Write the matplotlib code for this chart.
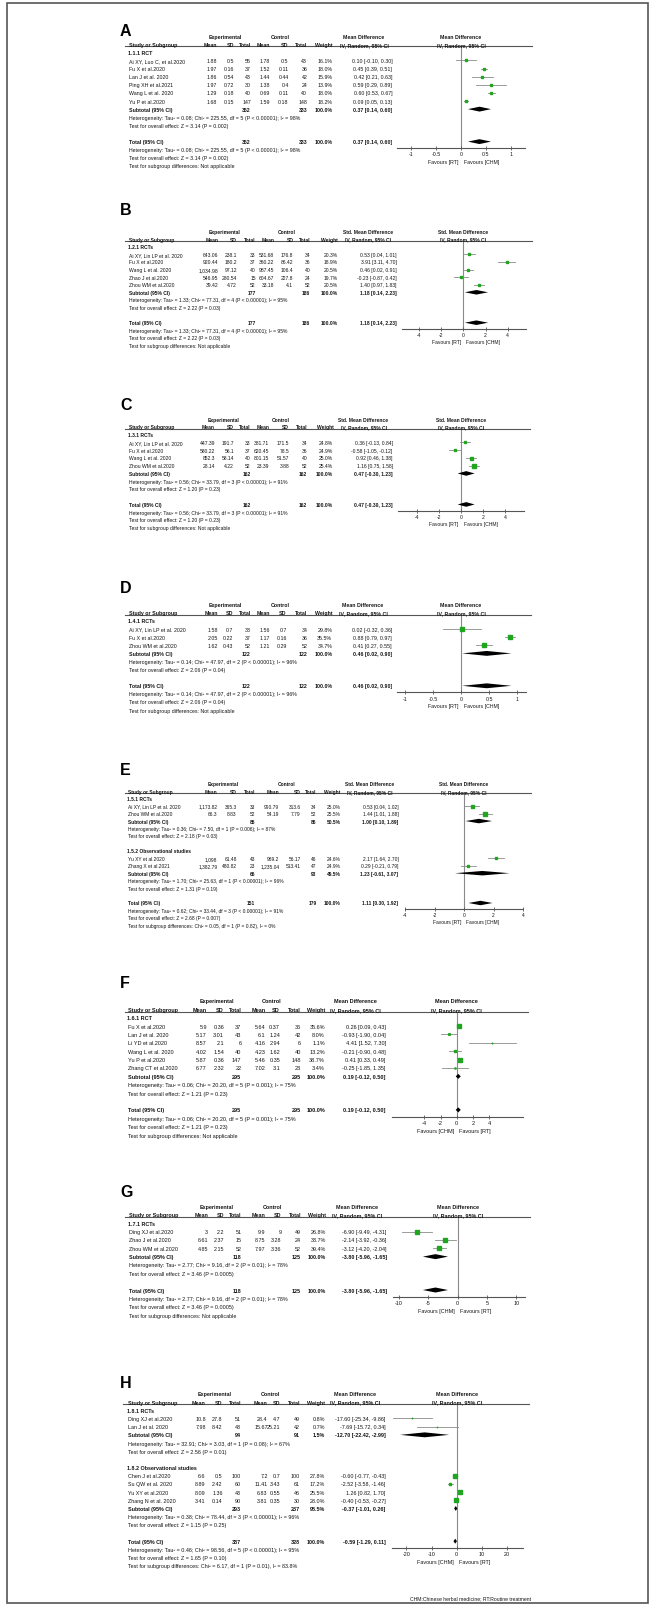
import matplotlib
matplotlib.use("Agg")
import matplotlib.pyplot as plt
from matplotlib.patches import Rectangle
from matplotlib.lines import Line2D

plt.rcParams['font.family'] = ['Liberation Sans', 'DejaVu Sans']

W, H = 655, 1606

# %%
# study rows: name, exp mean, exp sd, exp n, ctl mean, ctl sd, ctl n, weight %, estimate, lower, upper
a_rows = [
    ("Ai XY, Luo C, et al.2020", "1.88", "0.5", 55, "1.78", "0.5", 43, 16.1, 0.10, -0.10, 0.30),
    ("Fu X et al.2020", "1.97", "0.16", 37, "1.52", "0.11", 36, 18.0, 0.45, 0.39, 0.51),
    ("Lan J et al. 2020", "1.86", "0.54", 43, "1.44", "0.44", 42, 15.9, 0.42, 0.21, 0.63),
    ("Ping XH et al.2021", "1.97", "0.72", 30, "1.38", "0.4", 24, 13.9, 0.59, 0.29, 0.89),
    ("Wang L et al. 2020", "1.29", "0.18", 40, "0.69", "0.11", 40, 18.0, 0.60, 0.53, 0.67),
    ("Yu P et al.2020", "1.68", "0.15", 147, "1.59", "0.18", 148, 18.2, 0.09, 0.05, 0.13),
]
a_sub = (352, 333, 100.0, 0.37, 0.14, 0.60)
a_het = "Heterogeneity: Tau² = 0.08; Chi² = 225.55, df = 5 (P < 0.00001); I² = 98%"
a_z = "Test for overall effect: Z = 3.14 (P = 0.002)"

b_rows = [
    ("Ai XY, Lin LP et al. 2020", "643.06", "238.1", 33, "531.68", "176.8", 34, 20.3, 0.53, 0.04, 1.01),
    ("Fu X et al.2020", "920.44", "180.2", 37, "360.22", "86.42", 36, 18.9, 3.91, 3.11, 4.70),
    ("Wang L et al. 2020", "1,034.98", "97.12", 40, "987.45", "106.4", 40, 20.5, 0.46, 0.02, 0.91),
    ("Zhao J et al.2020", "546.95", "280.54", 15, "604.67", "227.8", 24, 19.7, -0.23, -0.87, 0.42),
    ("Zhou WM et al.2020", "39.42", "4.72", 52, "33.18", "4.1", 52, 20.5, 1.40, 0.97, 1.83),
]
b_sub = (177, 186, 100.0, 1.18, 0.14, 2.23)
b_het = "Heterogeneity: Tau² = 1.33; Chi² = 77.31, df = 4 (P < 0.00001); I² = 95%"
b_z = "Test for overall effect: Z = 2.22 (P = 0.03)"

c_rows = [
    ("Ai XY, Lin LP et al. 2020", "447.39", "191.7", 33, "381.71", "171.5", 34, 24.8, 0.36, -0.13, 0.84),
    ("Fu X et al.2020", "580.22", "56.1", 37, "620.45", "78.5", 36, 24.9, -0.58, -1.05, -0.12),
    ("Wang L et al. 2020", "852.3", "58.14", 40, "801.15", "51.57", 40, 25.0, 0.92, 0.46, 1.38),
    ("Zhou WM et al.2020", "28.14", "4.22", 52, "23.39", "3.88", 52, 25.4, 1.16, 0.75, 1.58),
]
c_sub = (162, 162, 100.0, 0.47, -0.30, 1.23)
c_het = "Heterogeneity: Tau² = 0.56; Chi² = 33.79, df = 3 (P < 0.00001); I² = 91%"
c_z = "Test for overall effect: Z = 1.20 (P = 0.23)"

d_rows = [
    ("Ai XY, Lin LP et al. 2020", "1.58", "0.7", 33, "1.56", "0.7", 34, 29.8, 0.02, -0.32, 0.36),
    ("Fu X et al.2020", "2.05", "0.22", 37, "1.17", "0.16", 36, 35.5, 0.88, 0.79, 0.97),
    ("Zhou WM et al.2020", "1.62", "0.43", 52, "1.21", "0.29", 52, 34.7, 0.41, 0.27, 0.55),
]
d_sub = (122, 122, 100.0, 0.46, 0.02, 0.90)
d_het = "Heterogeneity: Tau² = 0.14; Chi² = 47.97, df = 2 (P < 0.00001); I² = 96%"
d_z = "Test for overall effect: Z = 2.06 (P = 0.04)"

e1_rows = [
    ("Ai XY, Lin LP et al. 2020", "1,173.82", "365.3", 33, "990.79", "313.6", 34, 25.0, 0.53, 0.04, 1.02),
    ("Zhou WM et al.2020", "66.3", "8.83", 52, "54.19", "7.79", 52, 25.5, 1.44, 1.01, 1.88),
]
e1_sub = (85, 86, 50.5, 1.00, 0.10, 1.89)
e1_het = "Heterogeneity: Tau² = 0.36; Chi² = 7.50, df = 1 (P = 0.006); I² = 87%"
e1_z = "Test for overall effect: Z = 2.18 (P = 0.03)"
e2_rows = [
    ("Yu XY et al.2020", "1,098", "61.48", 43, "969.2", "56.17", 46, 24.6, 2.17, 1.64, 2.70),
    ("Zhang X et al.2021", "1,382.79", "480.82", 23, "1,235.04", "513.41", 47, 24.9, 0.29, -0.21, 0.79),
]
e2_sub = (66, 93, 49.5, 1.23, -0.61, 3.07)
e2_het = "Heterogeneity: Tau² = 1.70; Chi² = 25.63, df = 1 (P < 0.00001); I² = 96%"
e2_z = "Test for overall effect: Z = 1.31 (P = 0.19)"
e_tot = (151, 179, 100.0, 1.11, 0.30, 1.92)
e_het = "Heterogeneity: Tau² = 0.62; Chi² = 33.44, df = 3 (P < 0.00001); I² = 91%"
e_z = "Test for overall effect: Z = 2.68 (P = 0.007)"
e_sg = "Test for subgroup differences: Chi² = 0.05, df = 1 (P = 0.82), I² = 0%"

f_rows = [
    ("Fu X et al.2020", "5.9", "0.36", 37, "5.64", "0.37", 36, 35.6, 0.26, 0.09, 0.43),
    ("Lan J et al. 2020", "5.17", "3.01", 43, "6.1", "1.24", 42, 8.0, -0.93, -1.90, 0.04),
    ("Li YD et al.2020", "8.57", "2.1", 6, "4.16", "2.94", 6, 1.1, 4.41, 1.52, 7.30),
    ("Wang L et al. 2020", "4.02", "1.54", 40, "4.23", "1.62", 40, 13.2, -0.21, -0.90, 0.48),
    ("Yu P et al.2020", "5.87", "0.36", 147, "5.46", "0.35", 148, 38.7, 0.41, 0.33, 0.49),
    ("Zhang CT et al.2020", "6.77", "2.32", 22, "7.02", "3.1", 23, 3.4, -0.25, -1.85, 1.35),
]
f_sub = (295, 295, 100.0, 0.19, -0.12, 0.50)
f_het = "Heterogeneity: Tau² = 0.06; Chi² = 20.20, df = 5 (P = 0.001); I² = 75%"
f_z = "Test for overall effect: Z = 1.21 (P = 0.23)"

g_rows = [
    ("Ding XJ et al.2020", "3", "2.2", 51, "9.9", "9", 49, 26.8, -6.90, -9.49, -4.31),
    ("Zhao J et al.2020", "6.61", "2.37", 15, "8.75", "3.28", 24, 33.7, -2.14, -3.92, -0.36),
    ("Zhou WM et al.2020", "4.85", "2.15", 52, "7.97", "3.36", 52, 39.4, -3.12, -4.20, -2.04),
]
g_sub = (118, 125, 100.0, -3.80, -5.96, -1.65)
g_het = "Heterogeneity: Tau² = 2.77; Chi² = 9.16, df = 2 (P = 0.01); I² = 78%"
g_z = "Test for overall effect: Z = 3.46 (P = 0.0005)"

h1_rows = [
    ("Ding XJ et al.2020", "10.8", "27.8", 51, "28.4", "4.7", 49, 0.8, -17.60, -25.34, -9.86),
    ("Lan J et al. 2020", "7.98", "8.42", 43, "15.67", "25.21", 42, 0.7, -7.69, -15.72, 0.34),
]
h1_sub = (94, 91, 1.5, -12.70, -22.42, -2.99)
h1_het = "Heterogeneity: Tau² = 32.91; Chi² = 3.03, df = 1 (P = 0.08); I² = 67%"
h1_z = "Test for overall effect: Z = 2.56 (P = 0.01)"
h2_rows = [
    ("Chen J et al.2020", "6.6", "0.5", 100, "7.2", "0.7", 100, 27.8, -0.60, -0.77, -0.43),
    ("Su QW et al. 2020", "8.89", "2.42", 60, "11.41", "3.43", 61, 17.2, -2.52, -3.58, -1.46),
    ("Yu XY et al.2020", "8.09", "1.36", 43, "6.83", "0.55", 46, 25.5, 1.26, 0.82, 1.70),
    ("Zhang N et al. 2020", "3.41", "0.14", 90, "3.81", "0.35", 30, 28.0, -0.40, -0.53, -0.27),
]
h2_sub = (293, 237, 98.5, -0.37, -1.01, 0.26)
h2_het = "Heterogeneity: Tau² = 0.38; Chi² = 78.44, df = 3 (P < 0.00001); I² = 96%"
h2_z = "Test for overall effect: Z = 1.15 (P = 0.25)"
h_tot = (387, 328, 100.0, -0.59, -1.29, 0.11)
h_het = "Heterogeneity: Tau² = 0.46; Chi² = 98.56, df = 5 (P < 0.00001); I² = 95%"
h_z = "Test for overall effect: Z = 1.65 (P = 0.10)"
h_sg = "Test for subgroup differences: Chi² = 6.17, df = 1 (P = 0.01), I² = 83.8%"

na = "Test for subgroup differences: Not applicable"
md = "Mean Difference"
smd = "Std. Mean Difference"
ticks_1 = [-1, -0.5, 0, 0.5, 1]
ticks_4 = [-4, -2, 0, 2, 4]
ticks_10 = [-10, -5, 0, 5, 10]
ticks_20 = [-20, -10, 0, 10, 20]
fav_rt_chm = ("Favours [RT]", "Favours [CHM]")
fav_chm_rt = ("Favours [CHM]", "Favours [RT]")

panels = [
    dict(letter="A", effect=md, groups=[("1.1.1 RCT", a_rows, a_sub, a_het, a_z)],
         total=a_sub, het=a_het, z=a_z, sg=na, ticks=ticks_1, fav=fav_rt_chm),
    dict(letter="B", effect=smd, groups=[("1.2.1 RCTs", b_rows, b_sub, b_het, b_z)],
         total=b_sub, het=b_het, z=b_z, sg=na, ticks=ticks_4, fav=fav_rt_chm),
    dict(letter="C", effect=smd, groups=[("1.3.1 RCTs", c_rows, c_sub, c_het, c_z)],
         total=c_sub, het=c_het, z=c_z, sg=na, ticks=ticks_4, fav=fav_rt_chm),
    dict(letter="D", effect=md, groups=[("1.4.1 RCTs", d_rows, d_sub, d_het, d_z)],
         total=d_sub, het=d_het, z=d_z, sg=na, ticks=ticks_1, fav=fav_rt_chm),
    dict(letter="E", effect=smd, groups=[("1.5.1 RCTs", e1_rows, e1_sub, e1_het, e1_z),
                                         ("1.5.2 Observational studies", e2_rows, e2_sub, e2_het, e2_z)],
         total=e_tot, het=e_het, z=e_z, sg=e_sg, ticks=ticks_4, fav=fav_rt_chm),
    dict(letter="F", effect=md, groups=[("1.6.1 RCT", f_rows, f_sub, f_het, f_z)],
         total=f_sub, het=f_het, z=f_z, sg=na, ticks=ticks_4, fav=fav_chm_rt),
    dict(letter="G", effect=md, groups=[("1.7.1 RCTs", g_rows, g_sub, g_het, g_z)],
         total=g_sub, het=g_het, z=g_z, sg=na, ticks=ticks_10, fav=fav_chm_rt),
    dict(letter="H", effect=md, groups=[("1.8.1 RCTs", h1_rows, h1_sub, h1_het, h1_z),
                                        ("1.8.2 Observational studies", h2_rows, h2_sub, h2_het, h2_z)],
         total=h_tot, het=h_het, z=h_z, sg=h_sg, ticks=ticks_20, fav=fav_chm_rt),
]

# %%
# layout in pixels of the 655x1606 picture, one entry per panel
layouts = [
    dict(top=53.3, step=8.12, name=129.3, cols=[217, 234.3, 251, 270, 288.7, 307.3, 332.3, 392.3],
         exp=225, ctl=280, eff=364, zero=461, unit=50, ax=(396.7, 525), line=(125, 532), letter_y=36),
    dict(top=247.7, step=7.6, name=129.3, cols=[218.3, 237, 255.7, 274.3, 293.3, 310.3, 338, 396.7],
         exp=225, ctl=286.7, eff=368, zero=463.3, unit=11.1, ax=(401.7, 525.7), line=(125, 531.7), letter_y=215),
    dict(top=435.7, step=7.75, name=129.3, cols=[215, 234, 250.7, 269.3, 289, 307.3, 333.3, 392.7],
         exp=223.3, ctl=281, eff=363.5, zero=461, unit=11.08, ax=(398, 524.3), line=(125, 530), letter_y=410),
    dict(top=622, step=8.1, name=129.3, cols=[218, 233.3, 250.7, 269.7, 286.7, 307.3, 332.3, 392],
         exp=225.7, ctl=280.7, eff=363, zero=461, unit=56, ax=(396.7, 525.7), line=(125, 530.7), letter_y=593),
    dict(top=799.7, step=7.45, name=128.3, cols=[217.3, 236.7, 255, 279.3, 300.7, 316.7, 340.7, 398.3],
         exp=223.3, ctl=286.7, eff=370, zero=464, unit=14.8, ax=(405, 523.3), line=(125, 530.7), letter_y=775),
    dict(top=1018.7, step=8.38, name=128.3, cols=[207, 224, 241.3, 265.7, 280, 300.7, 325, 385.7],
         exp=216.7, ctl=271.7, eff=355, zero=456.7, unit=8.1, ax=(391.7, 523.3), line=(125, 528.3), letter_y=988),
    dict(top=1224.3, step=8.34, name=129.3, cols=[208.3, 224.3, 241.3, 265, 281.7, 301, 326, 386.7],
         exp=216.7, ctl=272.7, eff=357, zero=457.7, unit=5.85, ax=(393.3, 525), line=(125, 530), letter_y=1197),
    dict(top=1411.3, step=8.18, name=128.3, cols=[205.7, 222.7, 241, 267.7, 280.7, 300, 325.3, 385.7],
         exp=215, ctl=270.7, eff=355, zero=456.7, unit=2.52, ax=(391.7, 523.3), line=(123.3, 529.3), letter_y=1388),
]

TXT = '#151515'
GREEN = '#1fa51f'
GRAY = '#8a8a8a'

fig = plt.figure(figsize=(W / 100, H / 100), dpi=100)


def fx(px):
    return px / W


def fy(py):
    return 1 - py / H


def ci_text(est, lo, hi):
    return f"{est:.2f} [{lo:.2f}, {hi:.2f}]"


def draw_panel(p, L):
    step = L['step']
    fs = step * 0.47
    cols = L['cols']

    def t(px, py, s, ha='left', bold=False, size=fs):
        fig.text(fx(px), fy(py), s, ha=ha, va='center', fontsize=size,
                 fontweight='bold' if bold else 'normal', color=TXT)

    top = L['top']
    yl = top - 0.72 * step
    # headers
    t(L['exp'], top - 2 * step, "Experimental", 'center', True)
    t(L['ctl'], top - 2 * step, "Control", 'center', True)
    t(L['eff'], top - 2 * step, p['effect'], 'center', True)
    t(L['zero'], top - 2 * step, p['effect'], 'center', True)
    t(L['name'], top - step, "Study or Subgroup", 'left', True)
    for x, s in zip(cols[:7], ["Mean", "SD", "Total", "Mean", "SD", "Total", "Weight"]):
        t(x, top - step, s, 'right', True)
    t(L['eff'], top - step, "IV, Random, 95% CI", 'center', True)
    t(L['zero'], top - step, "IV, Random, 95% CI", 'center', True)
    fig.add_artist(Line2D([fx(L['line'][0]), fx(L['line'][1])], [fy(yl), fy(yl)],
                          transform=fig.transFigure, color='#555555', lw=0.8))

    marks = []   # (kind, y, est, lo, hi, weight)
    i = 0
    for title, rows, sub, het, z in p['groups']:
        t(L['name'] - 1.5, top + i * step, title, 'left', True)
        i += 1
        for r in rows:
            y = top + i * step
            t(L['name'], y, r[0])
            for x, v in zip(cols[:6], r[1:7]):
                t(x, y, str(v), 'right')
            t(cols[6], y, f"{r[7]:.1f}%", 'right')
            t(cols[7], y, ci_text(*r[8:11]), 'right')
            marks.append(('sq', y, r[8], r[9], r[10], r[7]))
            i += 1
        y = top + i * step
        t(L['name'], y, "Subtotal (95% CI)", 'left', True)
        t(cols[2], y, str(sub[0]), 'right', True)
        t(cols[5], y, str(sub[1]), 'right', True)
        t(cols[6], y, f"{sub[2]:.1f}%", 'right', True)
        t(cols[7], y, ci_text(*sub[3:6]), 'right', True)
        marks.append(('dm', y, sub[3], sub[4], sub[5], 0))
        t(L['name'], top + (i + 1) * step, het)
        t(L['name'], top + (i + 2) * step, z)
        i += 4
    tot = p['total']
    y_tot = top + i * step
    t(L['name'], y_tot, "Total (95% CI)", 'left', True)
    t(cols[2], y_tot, str(tot[0]), 'right', True)
    t(cols[5], y_tot, str(tot[1]), 'right', True)
    t(cols[6], y_tot, f"{tot[2]:.1f}%", 'right', True)
    t(cols[7], y_tot, ci_text(*tot[3:6]), 'right', True)
    marks.append(('dm', y_tot, tot[3], tot[4], tot[5], 0))
    t(L['name'], y_tot + step, p['het'])
    t(L['name'], y_tot + 2 * step, p['z'])
    t(L['name'], y_tot + 3 * step, p['sg'])

    # forest plot
    axis_y = y_tot + 0.82 * step
    x0, x1 = L['ax']
    ax = fig.add_axes([fx(x0), fy(axis_y), (x1 - x0) / W, (axis_y - yl) / H])
    ax.set_xlim((x0 - L['zero']) / L['unit'], (x1 - L['zero']) / L['unit'])
    ax.set_ylim(axis_y, yl)
    ax.patch.set_alpha(0)
    for s in ['top', 'left', 'right']:
        ax.spines[s].set_visible(False)
    ax.spines['bottom'].set_color('#555555')
    ax.spines['bottom'].set_linewidth(0.8)
    ax.set_yticks([])
    ax.set_xticks(p['ticks'])
    ax.set_xticklabels([f"{v:g}" for v in p['ticks']])
    ax.tick_params(axis='x', direction='inout', length=3, width=0.6, color='#555555',
                   labelsize=fs, labelcolor=TXT, pad=0.8)
    ax.axvline(0, color=GRAY, lw=0.8, zorder=1)
    h = 0.3 * step
    for kind, y, est, lo, hi, w in marks:
        if kind == 'sq':
            ax.plot([lo, hi], [y, y], color=GRAY, lw=0.6, zorder=2)
            ax.plot(est, y, marker='s', color=GREEN, mec=GREEN,
                    markersize=0.6 * w ** 0.5 * 0.72, zorder=3)
        else:
            ax.fill([lo, est, hi, est], [y, y - h, y, y + h], color='black', lw=0, zorder=3)

    fav_y = axis_y + 1.66 * step
    t(L['zero'] - 2.5, fav_y, p['fav'][0], 'right')
    t(L['zero'] + 2.5, fav_y, p['fav'][1], 'left')

    fig.text(fx(120), fy(L['letter_y']), p['letter'], ha='left', va='baseline',
             fontsize=11.5, fontweight='bold', color='black')


for p, L in zip(panels, layouts):
    draw_panel(p, L)

fig.text(fx(470), fy(1599), "CHM:Chinese herbal medicine; RT:Routine treatment",
         ha='center', va='center', fontsize=3.7, color=TXT)

fig.add_artist(Rectangle((fx(7.3), fy(1604)), fx(648) - fx(7.3), (1604 - 4) / H,
                         transform=fig.transFigure, fill=False, edgecolor='#555555', lw=1.2))

fig.savefig("out.png", dpi=100)
